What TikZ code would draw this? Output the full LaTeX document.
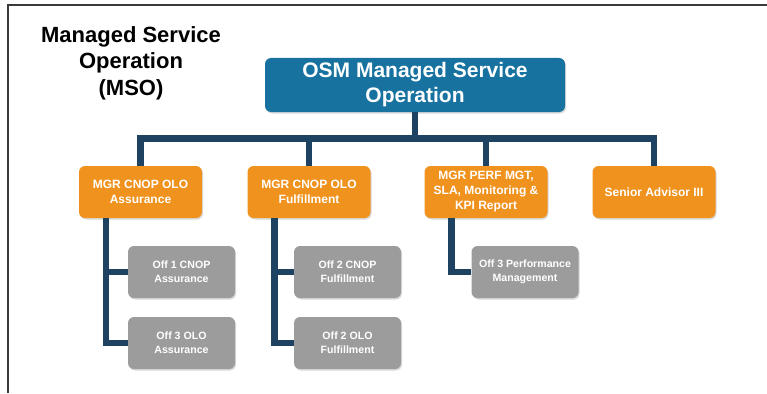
\documentclass[tikz,border=0pt]{standalone}
\usepackage{fontspec}
\setmainfont{Liberation Sans}
\usetikzlibrary{shadows, positioning}

\definecolor{osmblue}{HTML}{1872A0}
\definecolor{mgrorange}{HTML}{F0921E}
\definecolor{offgray}{HTML}{9C9C9C}
\definecolor{linknavy}{HTML}{1E4262}
\definecolor{framegray}{HTML}{3A3A3A}

\begin{document}
\begin{tikzpicture}[x=1pt,y=-1pt,
    boxbase/.style={rounded corners=6pt, align=center, text=white, inner sep=2pt,
      drop shadow={shadow xshift=1pt, shadow yshift=-1.5pt, opacity=0.3}},
    head/.style={boxbase, fill=osmblue, minimum width=300pt, minimum height=54pt,
      font=\bfseries\fontsize{21}{25}\selectfont},
    mgr/.style={boxbase, fill=mgrorange, minimum width=123pt, minimum height=52pt,
      font=\bfseries\fontsize{12}{15}\selectfont},
    off/.style={boxbase, fill=offgray, minimum width=107pt, minimum height=52pt,
      font=\bfseries\fontsize{10.6}{14}\selectfont},
    link/.style={draw=linknavy, line width=6.5pt}]
  \useasboundingbox (0,0) rectangle (767,393);

  % open frame, top and left only
  \draw[framegray, line width=1.6pt] (8,393) -- (8,5) -- (767,5);

  \node[font=\bfseries\fontsize{22}{26.5}\selectfont, align=center] (title) at (131,63)
    {Managed Service\\Operation\\(MSO)};

  % head and managers
  \node[head] (osm) at (415,85) {OSM Managed Service\\Operation};
  \node[mgr] (mgrA) at (140.5,192) {MGR CNOP OLO\\Assurance};
  \node[mgr] (mgrF) at (309,192) {MGR CNOP OLO\\Fulfillment};
  \node[mgr] (mgrP) at (486,192) {MGR PERF MGT,\\SLA, Monitoring \&\\KPI Report};
  \node[mgr] (adv) at (654,192) {Senior Advisor III};

  % officers
  \node[off] (offA1) at (181.5,272) {Off 1 CNOP\\Assurance};
  \node[off] (offA3) at (181.5,343) {Off 3 OLO\\Assurance};
  \node[off] (offF1) at (347.5,272) {Off 2 CNOP\\Fulfillment};
  \node[off] (offF2) at (347.5,343) {Off 2 OLO\\Fulfillment};
  \node[off] (offP3) at (525,272) {Off 3 Performance\\Management};

  % bus under the head
  \coordinate (bus) at (415,138.5);
  \draw[link] (osm.south) -- (osm.south |- bus);
  \draw[link] (mgrA.north) -- (mgrA.north |- bus) -- (adv.north |- bus) -- (adv.north);
  \draw[link] (mgrF.north) -- (mgrF.north |- bus);
  \draw[link] (mgrP.north) -- (mgrP.north |- bus);

  % trunks down to the officers
  \coordinate (trunkA) at ([xshift=27pt]mgrA.south west);
  \coordinate (trunkF) at ([xshift=27pt]mgrF.south west);
  \coordinate (trunkP) at ([xshift=27pt]mgrP.south west);
  \draw[link] (trunkA) |- (offA3.west);
  \draw[link] (offA1.west) -- (offA1.west -| trunkA);
  \draw[link] (trunkF) |- (offF2.west);
  \draw[link] (offF1.west) -- (offF1.west -| trunkF);
  \draw[link] (trunkP) |- (offP3.west);
\end{tikzpicture}
\end{document}
